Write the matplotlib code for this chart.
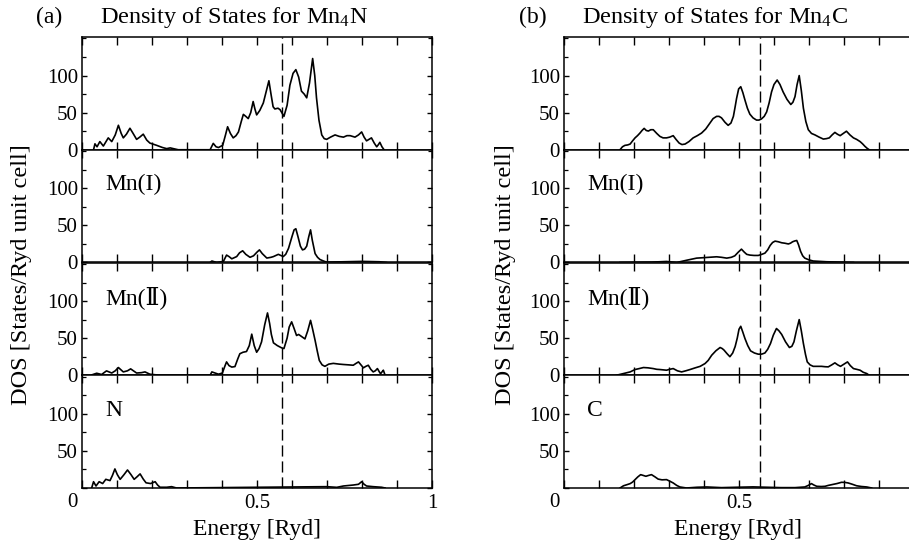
import numpy as np
import matplotlib
matplotlib.use('Agg')
import matplotlib.pyplot as plt
from matplotlib.ticker import MultipleLocator
from matplotlib.transforms import ScaledTranslation

plt.rcParams['font.family'] = ['Liberation Serif', 'DejaVu Serif', 'Noto Sans CJK JP']
plt.rcParams['mathtext.fontset'] = 'custom'
plt.rcParams['mathtext.rm'] = 'Liberation Serif'
plt.rcParams['mathtext.it'] = 'Liberation Serif:italic'

# ---- (a) Mn4N, energies in Ryd, DOS in states/Ryd unit cell ----
e_mn4n_tot = [0.033, 0.037, 0.043, 0.051, 0.061, 0.075, 0.085, 0.095, 0.104, 0.112, 0.118, 0.127,
              0.137, 0.146, 0.156, 0.165, 0.175, 0.185, 0.194, 0.213, 0.230, 0.242, 0.252, 0.261,
              0.275, 0.366, 0.375, 0.383, 0.390, 0.402, 0.410, 0.416, 0.424, 0.432, 0.440, 0.447,
              0.455, 0.461, 0.468, 0.475, 0.482, 0.489, 0.494, 0.499, 0.508, 0.518, 0.526, 0.534,
              0.540, 0.546, 0.551, 0.560, 0.566, 0.577, 0.586, 0.594, 0.603, 0.611, 0.619, 0.627,
              0.635, 0.642, 0.650, 0.659, 0.665, 0.670, 0.677, 0.685, 0.692, 0.699, 0.710, 0.723,
              0.735, 0.747, 0.757, 0.766, 0.780, 0.790, 0.799, 0.806, 0.813, 0.820, 0.827, 0.835,
              0.842, 0.847, 0.851, 0.857, 0.863]
dos_mn4n_tot = [0, 8, 4, 11, 5, 16, 11, 20, 33, 22, 16, 21,
                29, 22, 14, 17, 21, 13, 9, 6, 3, 1.5, 2.5, 1.5,
                0, 0, 8.6, 4, 3, 6, 20, 31, 22, 16, 19, 24,
                38, 47.7, 45, 42, 50, 65, 55, 47, 53, 63, 78, 93,
                75, 58, 55, 56, 54, 45, 60, 87, 103, 108, 98, 79,
                75, 70, 90, 123, 100, 70, 40, 20, 15, 14, 17, 20,
                18, 17, 19, 19, 17, 20, 24, 17, 12, 14, 16, 9,
                4, 7, 10, 4, 0]

e_mn4n_mn1 = [0.366, 0.371, 0.385, 0.404, 0.413, 0.420, 0.428, 0.442, 0.450, 0.459, 0.468, 0.480,
              0.490, 0.500, 0.507, 0.515, 0.528, 0.540, 0.547, 0.561, 0.575, 0.582, 0.590, 0.600,
              0.606, 0.611, 0.617, 0.624, 0.630, 0.636, 0.642, 0.648, 0.653, 0.658, 0.666, 0.673,
              0.680, 0.690, 0.699, 0.750, 0.800, 0.850, 0.870]
dos_mn4n_mn1 = [0, 2, 0, 1.5, 10, 8, 5, 8, 13, 15.8, 11, 7,
                9, 14, 17, 12, 6, 7, 8, 11, 8, 11, 19, 35,
                44, 45.5, 35, 22, 17, 18, 22, 35, 44, 30, 12, 7,
                4, 2, 0.5, 1, 1.5, 1, 0]

e_mn4n_mn2 = [0.028, 0.042, 0.056, 0.070, 0.085, 0.095, 0.104, 0.118, 0.130, 0.139, 0.156, 0.170,
              0.180, 0.194, 0.223, 0.366, 0.371, 0.390, 0.401, 0.408, 0.413, 0.420, 0.428, 0.437,
              0.445, 0.451, 0.460, 0.470, 0.478, 0.485, 0.492, 0.499, 0.506, 0.513, 0.522, 0.530,
              0.536, 0.541, 0.547, 0.558, 0.570, 0.577, 0.586, 0.592, 0.599, 0.606, 0.613, 0.619,
              0.625, 0.637, 0.645, 0.653, 0.659, 0.666, 0.672, 0.678, 0.686, 0.694, 0.705, 0.718,
              0.735, 0.747, 0.762, 0.775, 0.783, 0.790, 0.797, 0.804, 0.811, 0.818, 0.825, 0.832,
              0.838, 0.844, 0.849, 0.853, 0.858, 0.861, 0.866]
dos_mn4n_mn2 = [0.5, 2.7, 1, 5.9, 3, 6, 10.4, 4.5, 6, 8.6, 3, 3.5,
                4.5, 1.4, 0, 0, 4.5, 1.4, 3, 12, 18, 13, 11, 11.7,
                22, 29, 31, 32, 40, 55.4, 40, 31, 36, 45, 68, 84,
                70, 55, 43.7, 40, 37, 36, 50, 65, 72, 63, 53.6, 55,
                53, 49, 60, 74, 62, 47, 33, 20, 14, 12, 15, 16,
                15, 14.5, 14, 13.5, 16, 18, 14, 10, 12, 13.5, 8, 4.5,
                6, 9, 5, 2, 5, 6.8, 0]

e_mn4n_n = [0.028, 0.033, 0.040, 0.049, 0.059, 0.068, 0.080, 0.087, 0.094, 0.101, 0.109, 0.120,
            0.130, 0.140, 0.149, 0.157, 0.166, 0.175, 0.183, 0.196, 0.209, 0.216, 0.223, 0.242,
            0.256, 0.270, 0.699, 0.728, 0.747, 0.775, 0.790, 0.799, 0.806, 0.813, 0.832, 0.856,
            0.866]
dos_mn4n_n = [0.7, 8.5, 2.7, 8.5, 6, 11.7, 10, 17, 25.7, 18, 11.7, 18,
              24.3, 18, 11.7, 15, 19, 12, 7, 6, 8.5, 4, 1, 1,
              1.8, 0, 1.8, 0.9, 2.7, 4, 5, 8.5, 5, 2.7, 1.8, 1,
              0]

# ---- (b) Mn4C ----
e_mn4c_tot = [0.160, 0.167, 0.174, 0.182, 0.189, 0.196, 0.203, 0.210, 0.217, 0.223, 0.229, 0.235,
              0.241, 0.248, 0.255, 0.265, 0.274, 0.283, 0.293, 0.302, 0.312, 0.320, 0.329, 0.337,
              0.346, 0.357, 0.369, 0.381, 0.393, 0.405, 0.417, 0.426, 0.436, 0.443, 0.450, 0.460,
              0.469, 0.477, 0.484, 0.489, 0.493, 0.499, 0.505, 0.511, 0.517, 0.524, 0.531, 0.540,
              0.550, 0.557, 0.564, 0.572, 0.579, 0.586, 0.593, 0.600, 0.609, 0.617, 0.626, 0.637,
              0.648, 0.654, 0.660, 0.666, 0.672, 0.678, 0.684, 0.691, 0.698, 0.707, 0.717, 0.729,
              0.741, 0.750, 0.758, 0.766, 0.774, 0.781, 0.789, 0.798, 0.807, 0.817, 0.827, 0.836,
              0.846, 0.853, 0.860, 0.866, 0.872]
dos_mn4c_tot = [0, 4, 5.9, 6.5, 7.7, 12, 16, 19, 22.5, 26, 28.8, 26,
                25.2, 27, 27, 22, 18, 16, 16, 17, 19, 14, 9, 7,
                7.7, 11, 16, 19, 22.5, 28, 36, 42, 45, 45, 43, 37,
                32.9, 36, 45, 58, 69, 82, 85, 77, 67, 56, 48, 43,
                40, 40, 41.5, 45, 51, 63, 78, 88, 94, 88, 78, 68,
                61, 64, 71.6, 88, 100, 80, 56, 38, 27, 22, 20, 17,
                14.4, 15, 16, 20, 23.4, 21, 19, 22, 25, 20, 16, 14,
                11, 8, 4.5, 2, 0]

e_mn4c_mn1 = [0.160, 0.250, 0.293, 0.322, 0.350, 0.379, 0.408, 0.436, 0.450, 0.465, 0.478, 0.488,
              0.498, 0.507, 0.515, 0.522, 0.531, 0.543, 0.555, 0.565, 0.574, 0.582, 0.589, 0.596,
              0.603, 0.612, 0.622, 0.631, 0.641, 0.647, 0.653, 0.659, 0.665, 0.670, 0.676, 0.682,
              0.688, 0.700, 0.712, 0.750, 0.827]
dos_mn4c_mn1 = [0, 0.5, 1.4, 0, 3, 5.9, 6.8, 7.7, 7, 5.9, 7, 9,
                14, 18, 14, 11, 10, 9.5, 9.5, 11, 12.6, 17, 23, 27,
                28.8, 28, 26.6, 26, 25, 26, 27.9, 29, 29.7, 24, 15, 9,
                5.9, 3.5, 2, 1, 0]

e_mn4c_mn2 = [0.150, 0.170, 0.189, 0.203, 0.215, 0.227, 0.240, 0.255, 0.265, 0.274, 0.293, 0.302,
              0.312, 0.324, 0.336, 0.348, 0.360, 0.375, 0.389, 0.403, 0.412, 0.422, 0.434, 0.446,
              0.452, 0.457, 0.466, 0.474, 0.482, 0.489, 0.495, 0.500, 0.505, 0.511, 0.517, 0.525,
              0.533, 0.544, 0.555, 0.565, 0.574, 0.582, 0.590, 0.598, 0.607, 0.614, 0.622, 0.633,
              0.644, 0.651, 0.657, 0.664, 0.672, 0.678, 0.684, 0.690, 0.695, 0.703, 0.712, 0.724,
              0.736, 0.746, 0.755, 0.765, 0.774, 0.782, 0.790, 0.800, 0.810, 0.818, 0.827, 0.836,
              0.846, 0.855, 0.865, 0.872]
dos_mn4c_mn2 = [0, 2.3, 4.5, 7.7, 9, 10.4, 10, 9, 8, 7.7, 6.8, 8,
                9, 6, 4.5, 6, 7.7, 10, 12, 15.8, 20, 27, 33, 37.4,
                36, 34, 29, 25, 30, 38.7, 50, 62, 66, 58, 49.5, 40,
                32.9, 30, 28.4, 28.5, 30, 35, 42.8, 54, 63, 60, 55, 45,
                37.4, 39, 45, 60, 75, 60, 42.8, 28, 18, 14, 12, 12,
                12, 11.5, 11.3, 14, 16.7, 14, 12, 15, 18, 13, 9, 8,
                6.8, 4, 2.3, 0]

e_mn4c_c = [0.160, 0.170, 0.180, 0.189, 0.196, 0.203, 0.211, 0.219, 0.226, 0.234, 0.242, 0.250,
            0.260, 0.269, 0.280, 0.293, 0.303, 0.312, 0.322, 0.331, 0.350, 0.380, 0.408, 0.450,
            0.493, 0.540, 0.580, 0.620, 0.660, 0.688, 0.698, 0.707, 0.714, 0.722, 0.735, 0.746,
            0.755, 0.765, 0.780, 0.793, 0.803, 0.812, 0.824, 0.836, 0.850, 0.865, 0.879]
dos_mn4c_c = [0, 3, 4.5, 5.9, 8, 11.3, 15, 18, 17, 15.8, 17, 18,
              15, 12, 11, 11.3, 9, 6.8, 3.5, 1.4, 0, 1, 1.4, 0.5,
              1, 1.5, 1, 0.5, 0.5, 1.4, 3.5, 5.9, 4, 2.3, 2, 2.3,
              3.5, 4.5, 6, 7.7, 7.5, 6.8, 5, 3, 2, 1.4, 0]

fermi_a = 0.571
fermi_b = 0.56
site_a = ['', 'Mn(I)', 'Mn(Ⅱ)', 'N']
site_b = ['', 'Mn(I)', 'Mn(Ⅱ)', 'C']
xlabels_a = ['', '', '', '', '', '0.5', '', '', '', '', '1']
xlabels_b = ['', '', '', '', '', '0.5', '', '', '', '', '']   # right edge is cut off in the scan

W, H = 909, 543
fig = plt.figure(figsize=(W / 100, H / 100), dpi=100)


def draw_panel(x0, curves, sites, fermi, xlabels):
    top = 37
    h = 112.75
    for i, (e, d) in enumerate(curves):
        bot = top + (i + 1) * h
        ax = fig.add_axes([x0 / W, 1 - bot / H, 350 / W, h / H])
        ax.plot(e, d, color='k', lw=1.2)
        ax.axvline(fermi, color='k', lw=1.0, ls=(0, (8, 3.5)))
        ax.set_xlim(0, 1)
        ax.set_ylim(0, 152)
        ax.set_xticks(np.arange(0, 1.01, 0.1))
        ax.set_yticks([0, 50, 100])
        ax.yaxis.set_minor_locator(MultipleLocator(25))
        ax.tick_params(axis='x', which='major', direction='in', top=True, bottom=True,
                       length=6, width=1.0, labelsize=15, pad=4)
        ax.tick_params(axis='y', which='major', direction='in', left=True, right=True,
                       length=3.5, width=1.0, labelsize=15, pad=3)
        ax.tick_params(axis='y', which='minor', direction='in', left=True, right=True,
                       length=3, width=0.9)
        for s in ax.spines.values():
            s.set_linewidth(1.1)
        if i < 3:
            ax.set_xticklabels([])
        else:
            ax.set_xticklabels(xlabels)
            # the "0" sits below the corner, shared by both axes
            lbl = ax.get_yticklabels()[0]
            lbl.set_transform(lbl.get_transform() + ScaledTranslation(0, -0.12, fig.dpi_scale_trans))
        if sites[i]:
            ax.text(0.066, 0.69, sites[i], transform=ax.transAxes, va='center', ha='left',
                    fontsize=17)


draw_panel(82, [(e_mn4n_tot, dos_mn4n_tot), (e_mn4n_mn1, dos_mn4n_mn1),
                (e_mn4n_mn2, dos_mn4n_mn2), (e_mn4n_n, dos_mn4n_n)], site_a, fermi_a, xlabels_a)
draw_panel(564, [(e_mn4c_tot, dos_mn4c_tot), (e_mn4c_mn1, dos_mn4c_mn1),
                 (e_mn4c_mn2, dos_mn4c_mn2), (e_mn4c_c, dos_mn4c_c)], site_b, fermi_b, xlabels_b)

# titles and axis labels
fig.text(49 / W, 1 - 23 / H, '(a)', ha='center', va='baseline', fontsize=17)
fig.text(100 / W, 1 - 23 / H, 'Density of States for Mn$_4$N', ha='left', va='baseline', fontsize=17.5)
fig.text(533 / W, 1 - 23 / H, '(b)', ha='center', va='baseline', fontsize=17)
fig.text(582 / W, 1 - 23 / H, 'Density of States for Mn$_4$C', ha='left', va='baseline', fontsize=17.5)

fig.text(22 / W, 1 - 275 / H, 'DOS [States/Ryd unit cell]', rotation=90, ha='center', va='center',
         fontsize=17.5)
fig.text(505 / W, 1 - 275 / H, 'DOS [States/Ryd unit cell]', rotation=90, ha='center', va='center',
         fontsize=17.5)
fig.text(257 / W, 1 - 530 / H, 'Energy [Ryd]', ha='center', va='center', fontsize=17)
fig.text(738 / W, 1 - 530 / H, 'Energy [Ryd]', ha='center', va='center', fontsize=17)

fig.savefig('out.png', dpi=100)
